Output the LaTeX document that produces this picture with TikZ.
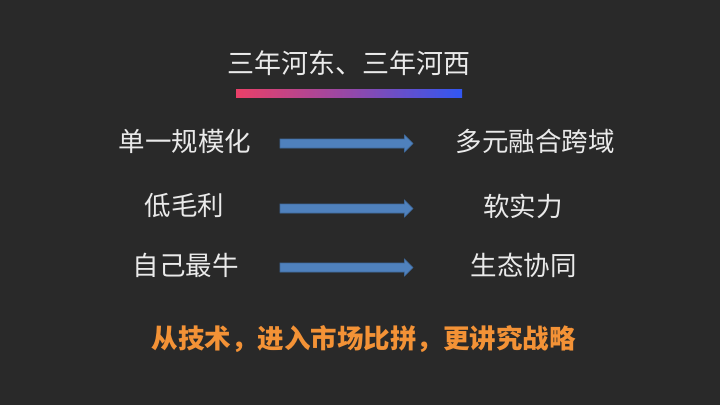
\documentclass[tikz,border=0pt]{standalone}
\usepackage{fontspec}
\setmainfont{Noto Sans CJK SC}
\newfontfamily\cjk{Noto Sans CJK SC}
\usetikzlibrary{calc}
\definecolor{bg}{HTML}{292929}
\definecolor{txt}{HTML}{EAEAEA}
\definecolor{arrowfill}{HTML}{4F81BD}
\definecolor{arrowline}{HTML}{3F6A9C}
\definecolor{gradL}{HTML}{EA4068}
\definecolor{gradM}{HTML}{9548A8}
\definecolor{gradR}{HTML}{3157F2}
\definecolor{orangetxt}{HTML}{F39236}
\tikzset{
  lbl/.style={text=txt, inner sep=0pt, font=\cjk\fontsize{26.5}{30}\selectfont},
  titlelbl/.style={text=txt, inner sep=0pt, font=\cjk\fontsize{27}{30}\selectfont},
  bottomlbl/.style={text=orangetxt, inner sep=0pt, font=\cjk\bfseries\fontsize{26.5}{30}\selectfont},
  blockarrow/.style={fill=arrowfill, draw=arrowline, line width=0.6pt, line join=miter}
}
\newcommand{\blockarr}[2]{%
  \path[blockarrow] ($(#1)+(0,-4.5)$) -- ($(#2)+(-8.5,-4.5)$) -- ($(#2)+(-8.5,-8.5)$)
    -- (#2) -- ($(#2)+(-8.5,8.5)$) -- ($(#2)+(-8.5,4.5)$) -- ($(#1)+(0,4.5)$) -- cycle;}
\begin{document}
\begin{tikzpicture}[x=1pt,y=-1pt]
\fill[bg] (0,0) rectangle (720,405);
\useasboundingbox (0,0) rectangle (720,405);
\node[titlelbl] (title) at (349,63) {三年河东、三年河西};
\shade[left color=gradL, right color=gradR, middle color=gradM] (236,89.5) rectangle (462,97);
\node[lbl] (l1) at (185,141) {单一规模化};
\node[lbl] (l2) at (184.5,206) {低毛利};
\node[lbl] (l3) at (185.5,265) {自己最牛};
\node[lbl] (r1) at (535,141) {多元融合跨域};
\node[lbl] (r2) at (523,206) {软实力};
\node[lbl] (r3) at (523.5,265) {生态协同};
\coordinate (s1) at (280,143.5); \coordinate (t1) at (413,143.5);
\coordinate (s2) at (280,208.5); \coordinate (t2) at (413,208.5);
\coordinate (s3) at (280,267.5); \coordinate (t3) at (413,267.5);
\blockarr{s1}{t1}
\blockarr{s2}{t2}
\blockarr{s3}{t3}
\node[bottomlbl] (bottom) at (363.5,339) {从技术，进入市场比拼，更讲究战略};
\end{tikzpicture}
\end{document}
